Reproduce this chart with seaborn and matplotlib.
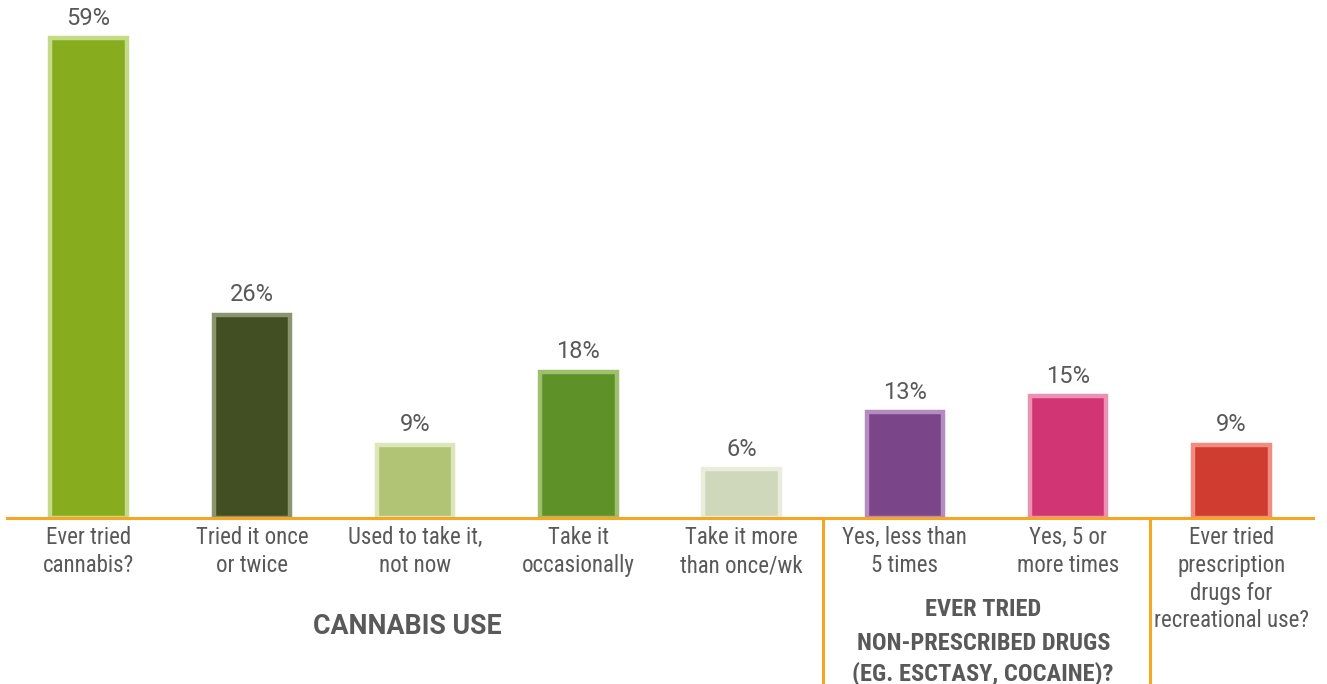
import matplotlib
matplotlib.use("Agg")
import matplotlib.pyplot as plt
import seaborn as sns
import pandas as pd

# data
categories = ["Ever tried\ncannabis?", "Tried it once\nor twice", "Used to take it,\nnot now",
              "Take it\noccasionally", "Take it more\nthan once/wk", "Yes, less than\n5 times",
              "Yes, 5 or\nmore times", "Ever tried\nprescription\ndrugs for\nrecreational use?"]
values = [59, 25, 9, 18, 6, 13, 15, 9]
pct_labels = ["59%", "26%", "9%", "18%", "6%", "13%", "15%", "9%"]
fills = ["#87AD1F", "#414F22", "#B1C375", "#5E9128", "#CFD8BB", "#7A4589", "#D13574", "#D03C30"]
edges = ["#C5DB8A", "#8A9470", "#DDE6B8", "#9DBF6E", "#E8EEDB", "#B48CC0", "#EA91B4", "#F08C80"]
group_titles = ["CANNABIS USE", "EVER TRIED\nNON-PRESCRIBED DRUGS\n(EG. ESCTASY, COCAINE)?"]

sns.set_style("white")
plt.rcParams['font.family'] = ['Roboto Condensed', 'Liberation Sans Narrow', 'Roboto', 'DejaVu Sans']
grey = "#595959"
orange = "#F5A623"

df = pd.DataFrame({"cat": categories, "val": values})

fig = plt.figure(figsize=(13.27, 6.84), dpi=100)
ax = fig.add_axes([7 / 1327, 166 / 684, 1306 / 1327, 518 / 684])
sns.barplot(data=df, x="cat", y="val", hue="cat", palette=fills, legend=False,
            width=0.47, saturation=1, ax=ax)
for p, ec in zip(ax.patches, edges):
    p.set_edgecolor(ec)
    p.set_linewidth(3.2)

for i, (v, t) in enumerate(zip(values, pct_labels)):
    ax.annotate(t, (i, v), xytext=(0, 6), textcoords="offset points",
                ha="center", va="bottom", fontsize=17, color=grey, family="Roboto")

ax.set_xlim(-0.5, 7.5)
ax.set_ylim(0, 63.67)
ax.set_xlabel("")
ax.set_ylabel("")
ax.set_yticks([])
sns.despine(ax=ax, left=True)
ax.spines["bottom"].set_color(orange)
ax.spines["bottom"].set_linewidth(2.2)
ax.tick_params(axis="x", length=0, pad=6, labelsize=16.5, labelcolor=grey)
for lab in ax.get_xticklabels():
    lab.set_linespacing(1.26)

# group separators
for xs in [4.5, 6.5]:
    ax.plot([xs, xs], [0, -21], color=orange, lw=2.2, clip_on=False)

ax.text(1.95, -13.3, group_titles[0], ha="center", va="center", fontsize=19.3,
        fontweight="bold", color=grey, family="Roboto")
# second group title, one line at a time so the spacing matches
for line, yy in zip(group_titles[1].split("\n"), [-11.3, -15.4, -19.15]):
    ax.text(5.48, yy, line, ha="center", va="center", fontsize=17.6,
            fontweight="bold", color=grey)

fig.savefig("out.png", dpi=100)
